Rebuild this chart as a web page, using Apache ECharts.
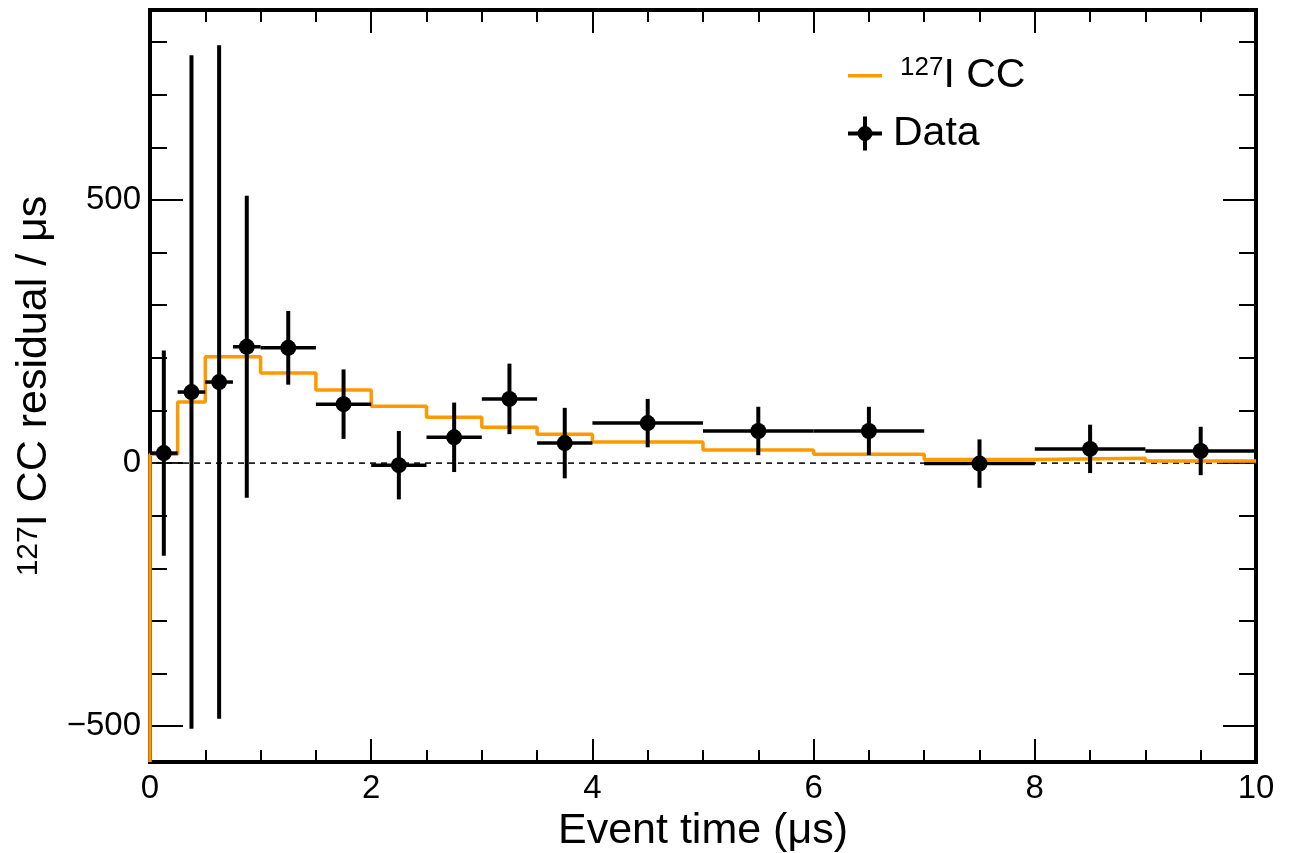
<!DOCTYPE html>
<html>
<head>
<meta charset="utf-8">
<script src="https://cdn.jsdelivr.net/npm/echarts@6/dist/echarts.min.js"></script>
<style>
  html, body { margin: 0; padding: 0; background: #fff; }
  #chart { width: 1294px; height: 853px; }
</style>
</head>
<body>
<div id="chart"></div>
<script>
// Bin edges of the event-time histogram (µs)
const binEdges = [0, 0.25, 0.5, 0.75, 1, 1.5, 2, 2.5, 3, 3.5, 4, 5, 6, 7, 8, 9, 10];
// 127I CC model residual per bin
const modelValues = [17, 116, 202, 202, 171, 139, 108, 87, 68, 55, 40, 25, 17, 7, 9, 4];
// Measured residual per bin and its uncertainty
const dataValues = [19, 135, 154, 221, 219, 112, -4, 49, 122, 38, 76, 61, 61, -1, 27, 23];
const dataErrors = [195, 640, 640, 287, 70, 66, 65, 66, 67, 67, 46, 46, 46, 46, 46, 46];

// Axis ranges and tick marks
const xRange = [0, 10];
const yRange = [-568, 861];
const yMajorTicks = [-500, 0, 500];
const yMinorTicks = [-500, -400, -300, -200, -100, 0, 100, 200, 300, 400, 500, 600, 700, 800];

const MODEL = '127I CC';
const DATA = 'Data';
const FONT = '"Liberation Sans", Arial, Helvetica, sans-serif';
const ORANGE = '#ff9900';

// Step outline of the model, starting from the bottom of the frame
const modelLine = [[binEdges[0], yRange[0]]];
modelValues.forEach((v, i) => modelLine.push([binEdges[i], v]));
modelLine.push([binEdges[binEdges.length - 1], modelValues[modelValues.length - 1]]);

// Data points: [centre, value, binLow, binHigh, error]
const dataPoints = dataValues.map((v, i) => [
  (binEdges[i] + binEdges[i + 1]) / 2, v, binEdges[i], binEdges[i + 1], dataErrors[i]
]);

const chart = echarts.init(document.getElementById('chart'), null, { renderer: 'canvas' });

const xCommon = {
  type: 'value', min: xRange[0], max: xRange[1], interval: 2,
  axisLine: { show: false, onZero: false },
  splitLine: { show: false },
  axisTick: { show: true, inside: true, length: 23, lineStyle: { color: '#000', width: 2 } },
  minorTick: { show: true, splitNumber: 4, length: 12, lineStyle: { color: '#000', width: 2 } },
  minorSplitLine: { show: false }
};
const yCommon = {
  type: 'value', min: yRange[0], max: yRange[1],
  axisLine: { show: false, onZero: false },
  splitLine: { show: false },
  minorTick: { show: false }
};
const majorTick = { show: true, inside: true, length: 33, customValues: yMajorTicks, lineStyle: { color: '#000', width: 2 } };
const minorTick = { show: true, inside: true, length: 17, customValues: yMinorTicks, lineStyle: { color: '#000', width: 2 } };

const supTitle = {
  sup: { fontSize: 30, fontFamily: FONT, color: '#000', lineHeight: 30, verticalAlign: 'top' },
  n: { fontSize: 43, fontFamily: FONT, color: '#000', lineHeight: 42, verticalAlign: 'bottom' }
};

chart.setOption({
  animation: false,
  backgroundColor: '#fff',
  grid: {
    left: 150, top: 10, width: 1106, height: 752,
    outerBoundsMode: 'none', containLabel: false,
    show: true, borderColor: '#000', borderWidth: 4, backgroundColor: 'transparent'
  },
  legend: {
    orient: 'vertical',
    left: 848, top: 55, padding: 0,
    itemWidth: 34, itemHeight: 34, itemGap: 17,
    data: [
      { name: MODEL, icon: 'path://M0,15.5h34v3.5h-34z M0,0h0.01v0.01h-0.01z M0,34h0.01v0.01h-0.01z' },
      { name: DATA, icon: 'path://M0,15h34v4h-34z M15,0h4v34h-4z M17,9.5 A7.5,7.5 0 1 1 17,24.5 A7.5,7.5 0 1 1 17,9.5 z' }
    ],
    formatter: name => name === MODEL ? '{sup|127}{n|I CC}' : '{d|Data}',
    textStyle: {
      rich: {
        sup: { fontSize: 26, fontFamily: FONT, color: '#000', lineHeight: 26, verticalAlign: 'top', padding: [0, 0, 0, 13] },
        n: { fontSize: 41, fontFamily: FONT, color: '#000', lineHeight: 41, verticalAlign: 'bottom' },
        d: { fontSize: 41, fontFamily: FONT, color: '#000', lineHeight: 41, padding: [0, 0, 0, 6] }
      }
    }
  },
  xAxis: [
    Object.assign({}, xCommon, {
      position: 'bottom',
      name: 'Event time (μs)', nameLocation: 'middle', nameGap: 44,
      nameTextStyle: { fontSize: 43, fontFamily: FONT, color: '#000' },
      axisLabel: { show: true, margin: 10, fontSize: 33, fontFamily: FONT, color: '#000' }
    }),
    Object.assign({}, xCommon, { position: 'top', axisLabel: { show: false } })
  ],
  yAxis: [
    Object.assign({}, yCommon, {
      position: 'left',
      name: '{sup|127}{n|I CC residual / μs}', nameLocation: 'middle', nameGap: 64, nameRotate: 90,
      nameTextStyle: { rich: supTitle },
      axisTick: majorTick,
      axisLabel: {
        show: true, margin: 9, fontSize: 33, fontFamily: FONT, color: '#000',
        customValues: yMajorTicks,
        formatter: v => String(v).replace('-', '\u2212')
      }
    }),
    Object.assign({}, yCommon, { position: 'left', axisTick: minorTick, axisLabel: { show: false } }),
    Object.assign({}, yCommon, { position: 'right', axisTick: majorTick, axisLabel: { show: false } }),
    Object.assign({}, yCommon, { position: 'right', axisTick: minorTick, axisLabel: { show: false } })
  ],
  series: [
    {
      name: 'zero',
      type: 'line',
      data: [[xRange[0], 0], [xRange[1], 0]],
      symbol: 'none',
      silent: true,
      lineStyle: { color: '#222', width: 1.6, type: [6, 5] },
      z: 1
    },
    {
      name: MODEL,
      type: 'line',
      step: 'end',
      data: modelLine,
      symbol: 'none',
      color: ORANGE,
      lineStyle: { color: ORANGE, width: 3.5 },
      z: 2
    },
    {
      name: DATA,
      type: 'custom',
      data: dataPoints,
      color: '#000',
      itemStyle: { color: '#000' },
      encode: { x: 0, y: 1 },
      z: 3,
      renderItem: (params, api) => {
        const x = api.value(0), y = api.value(1);
        const lo = api.value(2), hi = api.value(3), e = api.value(4);
        const c = api.coord([x, y]);
        const l = api.coord([lo, y]);
        const r = api.coord([hi, y]);
        const t = api.coord([x, y + e]);
        const b = api.coord([x, y - e]);
        return {
          type: 'group',
          children: [
            { type: 'line', shape: { x1: l[0], y1: c[1], x2: r[0], y2: c[1] }, style: { stroke: '#000', lineWidth: 3.5 } },
            { type: 'line', shape: { x1: c[0], y1: t[1], x2: c[0], y2: b[1] }, style: { stroke: '#000', lineWidth: 4 } },
            { type: 'circle', shape: { cx: c[0], cy: c[1], r: 8 }, style: { fill: '#000' } }
          ]
        };
      }
    }
  ]
});
</script>
</body>
</html>
